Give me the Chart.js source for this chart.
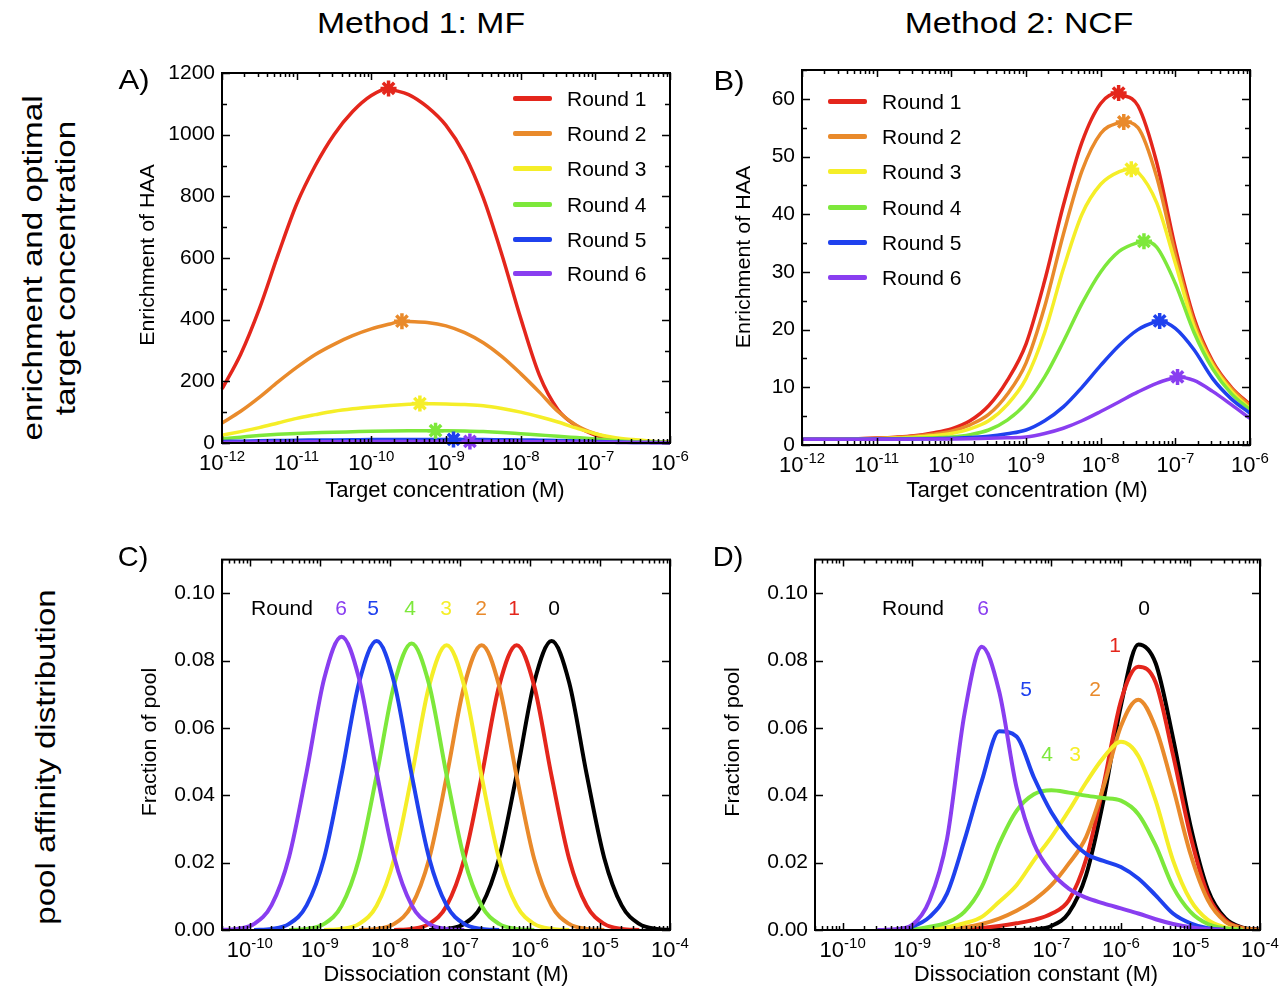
<!DOCTYPE html>
<html>
<head>
<meta charset="utf-8">
<script src="https://cdn.jsdelivr.net/npm/chart.js@4.4.1/dist/chart.umd.min.js"></script>
<style>
html, body { margin: 0; padding: 0; background: #fff; }
body { position: relative; width: 1288px; height: 992px; overflow: hidden; font-family: "Liberation Sans", Arial, sans-serif; color: #000; }
canvas { position: absolute; }
.lbl { position: absolute; white-space: nowrap; line-height: 1; }
.key { position: absolute; height: 5px; border-radius: 2px; }
</style>
</head>
<body>
<canvas id="chartA" width="600" height="480" style="left:100px;top:40px"></canvas>
<canvas id="chartB" width="598" height="480" style="left:690px;top:40px"></canvas>
<canvas id="chartC" width="600" height="452" style="left:100px;top:540px"></canvas>
<canvas id="chartD" width="598" height="452" style="left:690px;top:540px"></canvas>
<script>
// ---- data ----
const roundNames = ['Round 1', 'Round 2', 'Round 3', 'Round 4', 'Round 5', 'Round 6'];
const roundColors = ['#e4261c', '#e98a2b', '#f5ee28', '#7de83b', '#1f41ee', '#893ef0'];
const round0Color = '#000000';

// target concentration (M), quarter decades from 1e-12 to 1e-6
const targetConc = [1e-12, 1.78e-12, 3.16e-12, 5.62e-12, 1e-11, 1.78e-11, 3.16e-11, 5.62e-11, 1e-10,
                    1.78e-10, 3.16e-10, 5.62e-10, 1e-9, 1.78e-9, 3.16e-9, 5.62e-9, 1e-8,
                    1.78e-8, 3.16e-8, 5.62e-8, 1e-7, 1.78e-7, 3.16e-7, 5.62e-7, 1e-6];
const targetTickExp = [-12, -11, -10, -9, -8, -7, -6];

// A) Method 1: MF, enrichment of HAA
const mfRound1 = [175, 288, 435, 610, 775, 900, 1000, 1075, 1127, 1148, 1130, 1090, 1030, 935, 795, 610, 405, 220, 108, 55, 26, 12, 6, 3, 2];
const mfRound2 = [65, 103, 148, 198, 245, 287, 320, 348, 370, 386, 394, 391, 380, 358, 325, 280, 225, 165, 102, 57, 30, 15, 8, 4, 2];
const mfRound3 = [25, 37, 50, 65, 80, 92, 103, 111, 117, 122, 126, 127.6, 126.5, 124.5, 121, 112, 100, 85, 68, 48, 30, 18, 11, 6, 3];
const mfRound4 = [14, 19, 24, 28, 31, 33, 35, 36.5, 38, 39, 39.6, 39.9, 39.9, 38.8, 37, 34, 30, 26, 22, 17.5, 13, 8.5, 5, 3, 2];
const mfRound5 = [5, 6, 7, 8, 9, 9.5, 10, 10.5, 11, 11.2, 11.4, 11.5, 11.5, 11.4, 11, 10.5, 10, 9, 8, 6.5, 5, 3.5, 2, 1.5, 1];
const mfRound6 = [2, 2.5, 3, 3.3, 3.5, 3.8, 4, 4.3, 4.5, 4.8, 4.9, 5, 5, 5.1, 5.1, 4.9, 4.5, 4.3, 4, 3.4, 2.8, 2.1, 1.5, 1.2, 1];
// optimal target concentration (stars)
const mfOptConc = [1.7e-10, 2.57e-10, 4.47e-10, 7.24e-10, 1.26e-9, 2.09e-9];
const mfOptEnrich = [1150, 395, 128, 40, 11.6, 5.2];
const mfTicks = [0, 200, 400, 600, 800, 1000, 1200];

// B) Method 2: NCF, enrichment of HAA
const ncfRound1 = [1.0, 1.02, 1.05, 1.1, 1.2, 1.35, 1.6, 2.1, 2.8, 4.2, 6.8, 11.2, 17.5, 28.5, 41.5, 52.5, 59.2, 60.9, 58.8, 49, 34.2, 22, 14.5, 10, 7.0];
const ncfRound2 = [1.0, 1.02, 1.04, 1.08, 1.15, 1.3, 1.5, 1.85, 2.4, 3.5, 5.3, 8.8, 14.2, 24, 36.5, 47.5, 54, 55.9, 55, 46.5, 33, 21.3, 14.2, 9.8, 6.8];
const ncfRound3 = [1.0, 1.01, 1.03, 1.06, 1.1, 1.2, 1.35, 1.6, 2.0, 2.8, 4.2, 7.0, 11.5, 19.5, 30.5, 40, 45.2, 47.4, 47.3, 42, 31.5, 20.5, 13.8, 9.4, 6.3];
const ncfRound4 = [1.0, 1.0, 1.01, 1.03, 1.05, 1.08, 1.15, 1.25, 1.4, 1.8, 2.6, 4.3, 7.2, 11.8, 17.9, 24.5, 30, 33.6, 35.1, 34.3, 28, 19.5, 13.2, 8.9, 6.1];
const ncfRound5 = [1.0, 1.0, 1.0, 1.01, 1.02, 1.03, 1.05, 1.1, 1.15, 1.3, 1.5, 1.95, 2.6, 4.2, 6.6, 10, 13.8, 17.3, 20, 21.4, 20.2, 16.5, 11.5, 8, 5.5];
const ncfRound6 = [1.0, 1.0, 1.0, 1.0, 1.0, 1.01, 1.02, 1.03, 1.05, 1.08, 1.15, 1.25, 1.4, 2.0, 2.9, 4.2, 5.8, 7.5, 9.2, 10.7, 11.7, 11.2, 9.3, 7.0, 4.6];
const ncfOptConc = [1.74e-8, 2.04e-8, 2.57e-8, 3.8e-8, 6.17e-8, 1.07e-7];
const ncfOptEnrich = [61, 56, 47.8, 35.3, 21.5, 11.8];
const ncfTicks = [0, 10, 20, 30, 40, 50, 60];

// C) pool affinity distribution, MF (dissociation constant, M)
const kdC = [3.63e-11, 6.46e-11, 1.15e-10, 2.04e-10, 3.63e-10, 6.46e-10, 1.15e-9, 2.04e-9, 3.63e-9, 6.46e-9,
             1.15e-8, 2.04e-8, 3.63e-8, 6.46e-8, 1.15e-7, 2.04e-7, 3.63e-7, 6.46e-7, 1.15e-6, 2.04e-6,
             3.63e-6, 6.46e-6, 1.15e-5, 2.04e-5, 3.63e-5, 6.46e-5, 1.15e-4];
const mfPool0 = [null, null, null, null, null, null, null, null, null, null, null, null,
                 0, 0.0003, 0.0018, 0.0073, 0.0214, 0.0462, 0.0735, 0.0858, 0.0735, 0.0462, 0.0214, 0.0073, 0.0018, 0.0003, 0];
const mfPool1 = [null, null, null, null, null, null, null, null, null, null,
                 0, 0.0003, 0.0018, 0.0072, 0.0211, 0.0456, 0.0725, 0.0846, 0.0725, 0.0456, 0.0211, 0.0072, 0.0018, 0.0003, 0, null, null];
const mfPool2 = [null, null, null, null, null, null, null, null,
                 0, 0.0003, 0.0018, 0.0072, 0.0211, 0.0456, 0.0725, 0.0846, 0.0725, 0.0456, 0.0211, 0.0072, 0.0018, 0.0003, 0, null, null, null, null];
const mfPool3 = [null, null, null, null, null, null,
                 0, 0.0003, 0.0018, 0.0072, 0.0211, 0.0456, 0.0725, 0.0846, 0.0725, 0.0456, 0.0211, 0.0072, 0.0018, 0.0003, 0, null, null, null, null, null, null];
const mfPool4 = [null, null, null, null,
                 0, 0.0003, 0.0018, 0.0072, 0.0212, 0.0459, 0.0729, 0.0851, 0.0729, 0.0459, 0.0212, 0.0072, 0.0018, 0.0003, 0, null, null, null, null, null, null, null, null];
const mfPool5 = [null, null,
                 0, 0.0003, 0.0018, 0.0073, 0.0214, 0.0462, 0.0735, 0.0858, 0.0735, 0.0462, 0.0214, 0.0073, 0.0018, 0.0003, 0, null, null, null, null, null, null, null, null, null, null];
const mfPool6 = [0, 0.0003, 0.0018, 0.0074, 0.0217, 0.0469, 0.0746, 0.0871, 0.0746, 0.0469, 0.0217, 0.0074, 0.0018, 0.0003, 0,
                 null, null, null, null, null, null, null, null, null, null, null, null];

// D) pool affinity distribution, NCF
const kdD = [3.16e-10, 5.62e-10, 1e-9, 1.78e-9, 3.16e-9, 5.62e-9, 1e-8, 1.78e-8, 3.16e-8, 5.62e-8, 1e-7, 1.78e-7,
             3.16e-7, 5.62e-7, 1e-6, 1.78e-6, 3.16e-6, 5.62e-6, 1e-5, 1.78e-5, 3.16e-5, 5.62e-5, 1e-4];
const ncfPool0 = [null, null, null, null, null, null, 0, 0, 0, 0.0002, 0.0012, 0.0051, 0.0163, 0.0385, 0.0666, 0.0848, 0.0792, 0.057, 0.031, 0.012, 0.0035, 0.0007, 0.0001];
const ncfPool1 = [null, null, null, null, 0, 0.0002, 0.0006, 0.0012, 0.002, 0.003, 0.0048, 0.0088, 0.021, 0.043, 0.068, 0.0782, 0.0735, 0.052, 0.028, 0.0105, 0.003, 0.0006, 0];
const ncfPool2 = [null, null, null, 0, 0.0002, 0.0008, 0.0018, 0.0034, 0.0057, 0.0089, 0.0133, 0.0197, 0.0276, 0.0425, 0.0605, 0.0684, 0.060, 0.0423, 0.0226, 0.0089, 0.0025, 0.0005, 0];
const ncfPool3 = [null, null, 0, 0.0002, 0.0008, 0.002, 0.0039, 0.0084, 0.0133, 0.0207, 0.0276, 0.0354, 0.0438, 0.0512, 0.0559, 0.0517, 0.0384, 0.0207, 0.0089, 0.003, 0.0008, 0, null];
const ncfPool4 = [null, 0, 0.0002, 0.001, 0.0022, 0.0054, 0.0128, 0.0256, 0.0354, 0.0403, 0.0415, 0.0408, 0.0399, 0.0392, 0.0384, 0.0344, 0.0251, 0.0128, 0.0054, 0.0018, 0.0005, 0, null];
const ncfPool5 = [null, 0, 0.001, 0.0039, 0.0108, 0.0266, 0.0443, 0.059, 0.0575, 0.0453, 0.035, 0.0276, 0.0226, 0.0205, 0.0187, 0.0153, 0.0103, 0.0049, 0.002, 0.0005, 0, null, null];
const ncfPool6 = [0, 0.0002, 0.0015, 0.0089, 0.027, 0.064, 0.0841, 0.0708, 0.0423, 0.0256, 0.0172, 0.0123, 0.0096, 0.0079, 0.0064, 0.0049, 0.0032, 0.0018, 0.0008, 0.0002, 0, null, null];

const kdTickExp = [-10, -9, -8, -7, -6, -5, -4];
const poolTicks = [0, 0.02, 0.04, 0.06, 0.08, 0.10];

// ---- drawing ----
const FONT = '"Liberation Sans", Arial, sans-serif';

// box, inward ticks and 10^n labels
const framePlugin = {
  id: 'frame',
  afterDatasetsDraw(chart, args, opts) {
    const ctx = chart.ctx, a = chart.chartArea;
    const xs = chart.scales.x, ys = chart.scales.y;
    ctx.save();
    ctx.strokeStyle = '#000';
    ctx.lineWidth = 1.5;
    ctx.beginPath();
    const e0 = Math.floor(Math.log10(xs.min)), e1 = Math.ceil(Math.log10(xs.max));
    for (let e = e0; e <= e1; e++) {
      for (let m = 1; m <= 9; m++) {
        const v = m * Math.pow(10, e);
        if (v < xs.min * 0.999 || v > xs.max * 1.001) continue;
        const px = Math.round(xs.getPixelForValue(v)) + 0.5;
        const len = m === 1 ? 7 : 4;
        ctx.moveTo(px, a.bottom); ctx.lineTo(px, a.bottom - len);
        ctx.moveTo(px, a.top); ctx.lineTo(px, a.top + len);
      }
    }
    const yTick = (v, len) => {
      const py = Math.round(ys.getPixelForValue(v)) + 0.5;
      ctx.moveTo(a.left, py); ctx.lineTo(a.left + len, py);
      ctx.moveTo(a.right, py); ctx.lineTo(a.right - len, py);
    };
    opts.yTicks.forEach(v => yTick(v, 8));
    if (opts.yMinor) {
      for (let v = ys.min; v <= ys.max; v += opts.yMinor) yTick(v, 5);
    }
    ctx.stroke();
    ctx.lineWidth = 2;
    ctx.strokeRect(a.left, a.top, a.right - a.left, a.bottom - a.top);

    ctx.fillStyle = '#000';
    ctx.textAlign = 'left';
    ctx.textBaseline = 'alphabetic';
    opts.xExp.forEach(e => {
      const px = xs.getPixelForValue(Math.pow(10, e));
      const sup = String(e);
      ctx.font = '22px ' + FONT;
      const wb = ctx.measureText('10').width;
      ctx.font = '15px ' + FONT;
      const ws = ctx.measureText(sup).width;
      const x0 = px - (wb + ws) / 2;
      const base = a.bottom + 27;
      ctx.font = '22px ' + FONT;
      ctx.fillText('10', x0, base);
      ctx.font = '15px ' + FONT;
      ctx.fillText(sup, x0 + wb, base - 9);
    });
    ctx.restore();
  }
};

// points of a series; the optimum (star) is added as one more point of the curve
function points(xs, ys, px, py) {
  const pts = xs.map((x, i) => ({x: x, y: ys[i]}));
  if (px !== undefined) {
    pts.push({x: px, y: py});
    pts.sort((p, q) => p.x - q.x);
  }
  return pts;
}

function curve(pts, color, width, order, clip) {
  return {
    data: pts,
    borderColor: color,
    borderWidth: width,
    pointRadius: 0,
    tension: 0.4,
    cubicInterpolationMode: 'monotone',
    spanGaps: false,
    fill: false,
    order: order,
    clip: clip
  };
}

function stars(xs, ys) {
  return {
    data: points(xs, ys),
    showLine: false,
    pointStyle: 'star',
    pointRadius: 8,
    pointBorderWidth: 3.5,
    pointBorderColor: roundColors,
    pointBackgroundColor: roundColors,
    clip: false,
    order: -1
  };
}

function makeChart(id, o) {
  return new Chart(document.getElementById(id), {
    type: 'line',
    data: {datasets: o.datasets},
    options: {
      responsive: false,
      animation: false,
      events: [],
      layout: {padding: {top: o.padTop, right: o.padRight, bottom: 0, left: 0}},
      plugins: {
        legend: {display: false},
        tooltip: {enabled: false},
        frame: {yTicks: o.yTicks, yMinor: o.yMinor, xExp: o.xExp}
      },
      scales: {
        x: {
          type: 'logarithmic', bounds: 'data', min: o.xMin, max: o.xMax,
          ticks: {display: false},
          grid: {display: false, drawTicks: false},
          border: {display: false},
          afterFit: s => { s.height = o.xBand; }
        },
        y: {
          type: 'linear', min: o.yMin, max: o.yMax,
          afterBuildTicks: s => { s.ticks = o.yTicks.map(v => ({value: v})); },
          ticks: {
            color: '#000', padding: 7,
            font: {family: FONT, size: 21},
            callback: o.yFormat
          },
          grid: {display: false, drawTicks: false},
          border: {display: false},
          afterFit: s => { s.width = o.yBand; }
        }
      }
    },
    plugins: [framePlugin]
  });
}

const mfSeries = [mfRound1, mfRound2, mfRound3, mfRound4, mfRound5, mfRound6];
const ncfSeries = [ncfRound1, ncfRound2, ncfRound3, ncfRound4, ncfRound5, ncfRound6];

makeChart('chartA', {
  datasets: mfSeries.map((s, i) => curve(points(targetConc, s, mfOptConc[i], mfOptEnrich[i]), roundColors[i], 3.5, 10 - i, 3))
            .concat([stars(mfOptConc, mfOptEnrich)]),
  xMin: 1e-12, xMax: 1e-6, yMin: 0, yMax: 1200,
  yTicks: mfTicks, yMinor: 100, xExp: targetTickExp,
  yFormat: v => String(v),
  padTop: 33, padRight: 30, yBand: 122, xBand: 77
});

makeChart('chartB', {
  datasets: ncfSeries.map((s, i) => curve(points(targetConc, s, ncfOptConc[i], ncfOptEnrich[i]), roundColors[i], 3.5, 10 - i, 3))
            .concat([stars(ncfOptConc, ncfOptEnrich)]),
  xMin: 1e-12, xMax: 1e-6, yMin: 0, yMax: 65,
  yTicks: ncfTicks, yMinor: 5, xExp: targetTickExp,
  yFormat: v => String(v),
  padTop: 30, padRight: 38, yBand: 112, xBand: 75
});

const mfPools = [mfPool0, mfPool1, mfPool2, mfPool3, mfPool4, mfPool5, mfPool6];
const ncfPools = [ncfPool0, ncfPool1, ncfPool2, ncfPool3, ncfPool4, ncfPool5, ncfPool6];
const poolColors = [round0Color].concat(roundColors);

makeChart('chartC', {
  datasets: mfPools.map((s, i) => curve(points(kdC, s), poolColors[i], 4, 10 - i)),
  xMin: 4e-11, xMax: 1e-4, yMin: 0, yMax: 0.11,
  yTicks: poolTicks, yMinor: 0, xExp: kdTickExp,
  yFormat: v => v.toFixed(2),
  padTop: 18, padRight: 30, yBand: 122, xBand: 62
});

makeChart('chartD', {
  datasets: ncfPools.map((s, i) => curve(points(kdD, s), poolColors[i], 4, 10 - i)),
  xMin: 4e-11, xMax: 1e-4, yMin: 0, yMax: 0.11,
  yTicks: poolTicks, yMinor: 0, xExp: kdTickExp,
  yFormat: v => v.toFixed(2),
  padTop: 18, padRight: 28, yBand: 125, xBand: 62
});

// ---- text ----
function place(text, cx, cy, size, span, rot, color) {
  const d = document.createElement('div');
  d.className = 'lbl';
  d.textContent = text;
  d.style.fontSize = size + 'px';
  if (color) d.style.color = color;
  document.body.appendChild(d);
  const k = span ? span / d.offsetWidth : 1;
  d.style.left = cx + 'px';
  d.style.top = cy + 'px';
  d.style.transform = 'translate(-50%, -50%) rotate(' + (rot || 0) + 'deg) scaleX(' + k + ')';
}

place('Method 1: MF', 421, 23, 30, 208);
place('Method 2: NCF', 1019, 23, 30, 228);
place('enrichment and optimal', 33, 268, 28, 345, -90);
place('target concentration', 66, 268, 28, 295, -90);
place('pool affinity distribution', 46, 757, 28, 335, -90);

place('A)', 134, 80, 28, 31);
place('B)', 729, 81, 28, 31);
place('C)', 133, 557, 28, 31);
place('D)', 728, 557, 28, 31);

place('Enrichment of HAA', 146, 255, 21, 182, -90);
place('Enrichment of HAA', 742, 257, 21, 183, -90);
place('Fraction of pool', 148, 742, 21, 149, -90);
place('Fraction of pool', 731, 742, 21, 150, -90);

place('Target concentration (M)', 445, 490, 22, 239);
place('Target concentration (M)', 1027, 490, 22, 241);
place('Dissociation constant (M)', 446, 974, 22, 245);
place('Dissociation constant (M)', 1036, 974, 22, 244);

// legends of A and B
function legend(lineLeft, textLeft, rows) {
  roundNames.forEach((name, i) => {
    const k = document.createElement('div');
    k.className = 'key';
    k.style.left = lineLeft + 'px';
    k.style.top = (rows[i] - 2.5) + 'px';
    k.style.width = '39px';
    k.style.background = roundColors[i];
    document.body.appendChild(k);
    const t = document.createElement('div');
    t.className = 'lbl';
    t.textContent = name;
    t.style.fontSize = '21px';
    t.style.left = textLeft + 'px';
    t.style.top = rows[i] + 'px';
    t.style.transform = 'translateY(-50%)';
    document.body.appendChild(t);
  });
}
legend(513, 567, [98, 133, 168, 204, 239, 273]);
legend(828, 882, [101, 136, 171, 207, 242, 277]);

// round number labels of C and D
place('Round', 282, 607, 21);
[['6', 341, 6], ['5', 373, 5], ['4', 410, 4], ['3', 446, 3], ['2', 481, 2], ['1', 514, 1], ['0', 554, 0]]
  .forEach(r => place(r[0], r[1], 607, 21, 0, 0, poolColors[r[2]]));
place('Round', 913, 607, 21);
[['6', 983, 607, 6], ['0', 1144, 607, 0], ['1', 1115, 644, 1], ['5', 1026, 688, 5],
 ['2', 1095, 688, 2], ['4', 1047, 753, 4], ['3', 1075, 753, 3]]
  .forEach(r => place(r[0], r[1], r[2], 21, 0, 0, poolColors[r[3]]));
</script>
</body>
</html>
